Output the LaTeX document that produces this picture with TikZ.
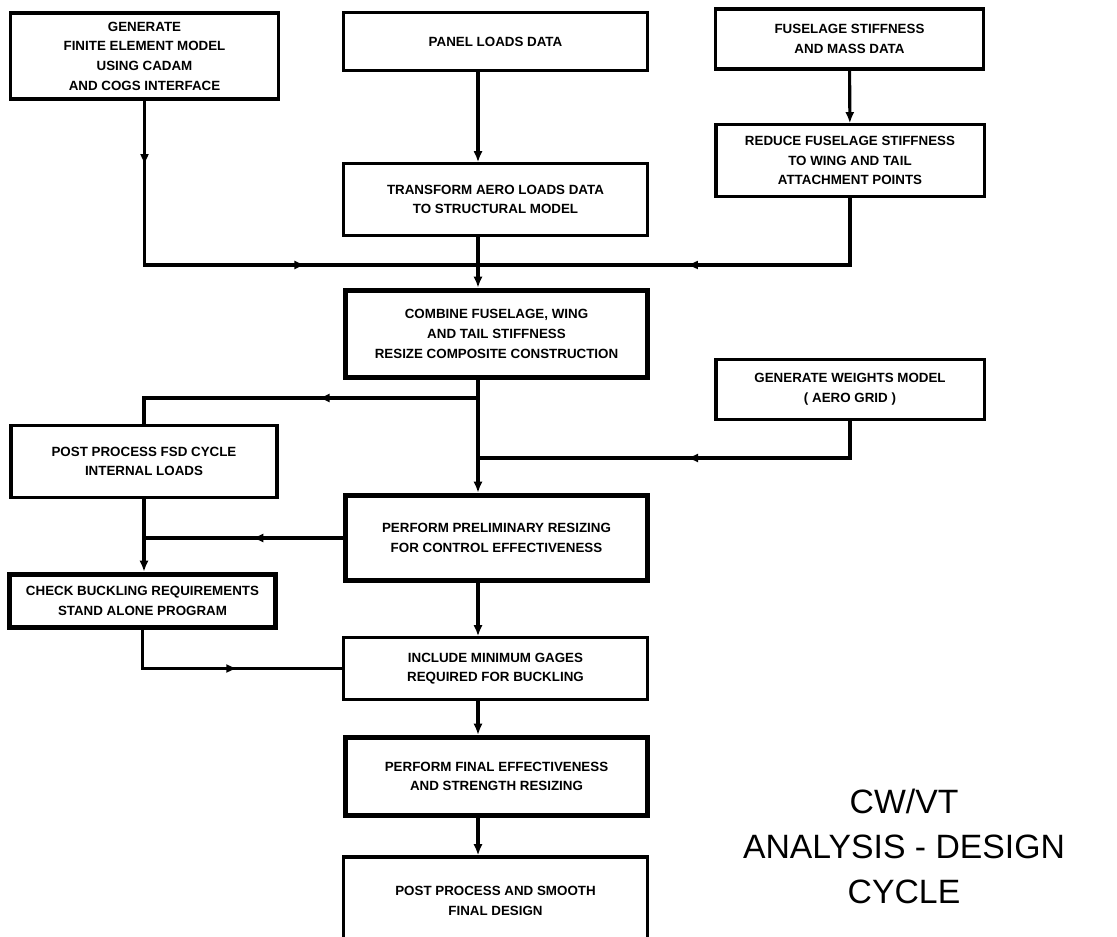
\documentclass[tikz,border=0pt]{standalone}
\usepackage{fontspec}
\setmainfont{Liberation Sans}
\usetikzlibrary{arrows.meta,decorations.markings}

\newcommand\tipmark{\arrow{Latex[length=8pt,width=6.5pt]}}

\begin{document}
\begin{tikzpicture}[x=0.025cm,y=-0.025cm,
  box/.style={draw, rectangle, line width=2.2pt, align=center, font=\fontsize{9.5}{14}\selectfont\bfseries},
  thickbox/.style={box, line width=3.6pt},
  link/.style={line width=2.2pt},
  flow/.style={link, -{Latex[length=8pt,width=6.5pt]}},
  midarrow/.style={link, postaction={decorate}, decoration={markings, mark=at position #1 with {\tipmark}}},
  twoarrows/.style 2 args={link, postaction={decorate}, decoration={markings, mark=at position #1 with {\tipmark}, mark=at position #2 with {\tipmark}}},
  title/.style={align=center, font=\fontsize{24}{32}\selectfont}]
\clip (0,0) rectangle (1117,937);

\node[box, minimum width=6.68cm, minimum height=2.15cm] (gen) at (144.5,56) {GENERATE\\FINITE ELEMENT MODEL\\USING CADAM\\AND COGS INTERFACE};
\node[box, minimum width=7.58cm, minimum height=1.43cm] (panel) at (495.5,41.5) {PANEL LOADS DATA};
\node[box, minimum width=6.68cm, minimum height=1.5cm] (fus) at (849.5,39) {FUSELAGE STIFFNESS\\AND MASS DATA};
\node[box, minimum width=6.7cm, minimum height=1.78cm] (reduce) at (850,160.5) {REDUCE FUSELAGE STIFFNESS\\TO WING AND TAIL\\ATTACHMENT POINTS};
\node[box, minimum width=7.58cm, minimum height=1.78cm] (transform) at (495.5,199.5) {TRANSFORM AERO LOADS DATA\\TO STRUCTURAL MODEL};
\node[thickbox, minimum width=7.55cm, minimum height=2.18cm] (combine) at (496.5,334) {COMBINE FUSELAGE, WING\\AND TAIL STIFFNESS\\RESIZE COMPOSITE CONSTRUCTION};
\node[box, minimum width=6.7cm, minimum height=1.48cm] (weights) at (850,389.5) {GENERATE WEIGHTS MODEL\\( AERO GRID )};
\node[box, minimum width=6.65cm, minimum height=1.78cm] (postfsd) at (144,461.5) {POST PROCESS FSD CYCLE\\INTERNAL LOADS};
\node[thickbox, minimum width=7.55cm, minimum height=2.13cm] (prelim) at (496.5,538) {PERFORM PRELIMINARY RESIZING\\FOR CONTROL EFFECTIVENESS};
\node[thickbox, minimum width=6.65cm, minimum height=1.33cm] (check) at (142.5,601) {CHECK BUCKLING REQUIREMENTS\\STAND ALONE PROGRAM};
\node[box, minimum width=7.58cm, minimum height=1.53cm] (include) at (495.5,668.5) {INCLUDE MINIMUM GAGES\\REQUIRED FOR BUCKLING};
\node[thickbox, minimum width=7.55cm, minimum height=1.95cm] (final) at (496.5,776.5) {PERFORM FINAL EFFECTIVENESS\\AND STRENGTH RESIZING};
\node[box, minimum width=7.58cm, minimum height=2.2cm] (smooth) at (495.5,901) {POST PROCESS AND SMOOTH\\FINAL DESIGN};
\node[title] (cycle) at (904,846) {CW/VT\\ANALYSIS - DESIGN\\CYCLE};

\coordinate (sp) at (478,0);
\coordinate (join) at (478,265);
\coordinate (fork) at (478,398);
\coordinate (wjoin) at (478,458);

\draw[twoarrows={0.13}{0.654}] (gen.south) |- (join);
\draw[midarrow=0.525] (reduce.south) |- (join);
\draw[flow] (fus) -- (reduce);
\draw[flow] (panel.south -| sp) -- (transform.north -| sp);
\draw[flow] (transform.south -| sp) -- (combine.north -| sp);
\draw[flow] (combine.south -| sp) -- (prelim.north -| sp);
\draw[midarrow=0.443] (fork) -| (postfsd.north);
\draw[midarrow=0.49] (weights.south) |- (wjoin);
\draw[midarrow=0.457] (prelim.west) -- (prelim.west -| postfsd.south);
\draw[flow] (postfsd.south) -- (check.north -| postfsd.south);
\draw[midarrow=0.56] (check.south) |- (include.west);
\draw[flow] (prelim.south -| sp) -- (include.north -| sp);
\draw[flow] (include.south -| sp) -- (final.north -| sp);
\draw[flow] (final.south -| sp) -- (smooth.north -| sp);
\end{tikzpicture}
\end{document}
